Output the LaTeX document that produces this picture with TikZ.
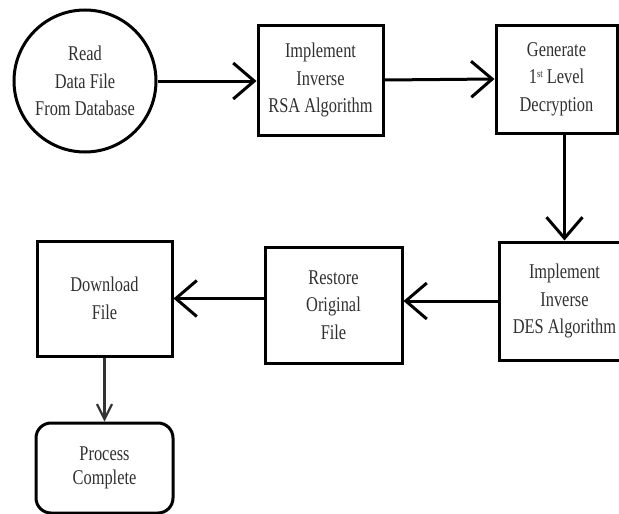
\documentclass[tikz,border=0pt]{standalone}
\usepackage{fontspec}
\setmainfont{Liberation Serif}[FakeStretch=0.78]
\usetikzlibrary{arrows.meta,calc}
\definecolor{txt}{HTML}{303030}
\tikzset{
  stepbox/.style={draw=black, line width=3pt, rectangle, align=center, text=txt,
    font=\fontsize{21}{27.5}\selectfont, inner sep=0pt},
  flow/.style={draw=black, line width=3pt, -{Straight Barb[length=21pt,width=36pt]}},
  thinflow/.style={draw=black!80, line width=2.2pt, -{Straight Barb[length=15pt,width=15pt]}}
}
\begin{document}
\begin{tikzpicture}[x=1pt,y=-1pt]
\useasboundingbox (0,0) rectangle (619,514);
\node[stepbox, circle, minimum size=142pt] (read) at (85,81) {Read\\Data File\\From Database};
\node[stepbox, minimum width=125pt, minimum height=110pt] (rsa) at (320.5,80) {Implement\\Inverse\\RSA Algorithm};
\node[stepbox, minimum width=121pt, minimum height=108pt] (gen) at (556.5,79) {Generate\\1{\fontsize{11}{11}\selectfont\raisebox{0.55em}{st}} Level\\Decryption};
\node[stepbox, minimum width=131pt, minimum height=118pt] (des) at (564.5,301) {Implement\\Inverse\\DES Algorithm};
\node[stepbox, minimum width=137pt, minimum height=116pt] (restore) at (333.5,305) {Restore\\Original\\File};
\node[stepbox, minimum width=135pt, minimum height=115pt] (down) at (104.5,298.5) {Download\\File};
\node[stepbox, rounded corners=15pt, minimum width=137pt, minimum height=90pt,
  font=\fontsize{21}{24}\selectfont] (proc) at (104.5,468) {Process\\Complete};
\draw[flow] (read.east) -- (read.east -| rsa.west);
\draw[flow] (rsa.east) -- (gen.west);
\draw[flow] (des.north |- gen.south) -- (des.north);
\draw[flow] (des.west) -- (des.west -| restore.east);
\draw[flow] (restore.west |- down.east) -- (down.east);
\draw[thinflow] (down.south) -- (proc.north);
\end{tikzpicture}
\end{document}
